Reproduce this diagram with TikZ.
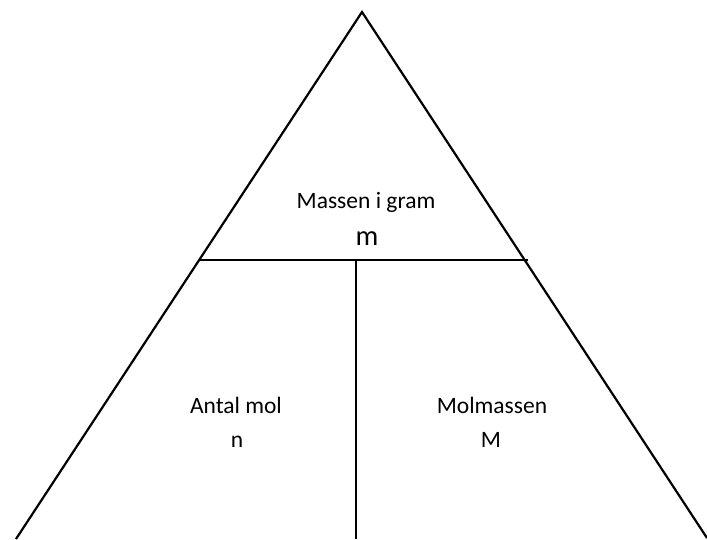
\documentclass[tikz,border=0pt]{standalone}
\usepackage{fontspec}
\setmainfont{Carlito}
\begin{document}
\begin{tikzpicture}[x=1pt,y=-1pt,
  edge/.style={line width=2.2pt,black},
  label/.style={anchor=base,inner sep=0pt,font=\fontsize{23.5}{28}\selectfont},
  symbol/.style={anchor=base,inner sep=0pt,font=\fontsize{28.5}{34}\selectfont}]
  \useasboundingbox[fill=white] (0,0) rectangle (707,539);
  % corners of the triangle and the dividing lines
  \coordinate (apex) at (362,12);
  \coordinate (bl) at (16,539);
  \coordinate (br) at (707,538);
  \coordinate (hl) at (200,260);
  \coordinate (hr) at (528,260);
  \coordinate (vt) at (356,260);
  \coordinate (vb) at (356,539);
  \draw[edge] (bl) -- (apex) -- (br);
  \draw[edge] (hl) -- (hr);
  \draw[edge] (vt) -- (vb);
  % labels
  \node[label] (mass) at (366,208) {Massen i gram};
  \node[symbol] (msym) at (367,245) {m};
  \node[label] (mol) at (236,413) {Antal mol};
  \node[label] (nsym) at (237,447) {n};
  \node[label] (molm) at (492,413) {Molmassen};
  \node[label] (Msym) at (491,447) {M};
\end{tikzpicture}
\end{document}
